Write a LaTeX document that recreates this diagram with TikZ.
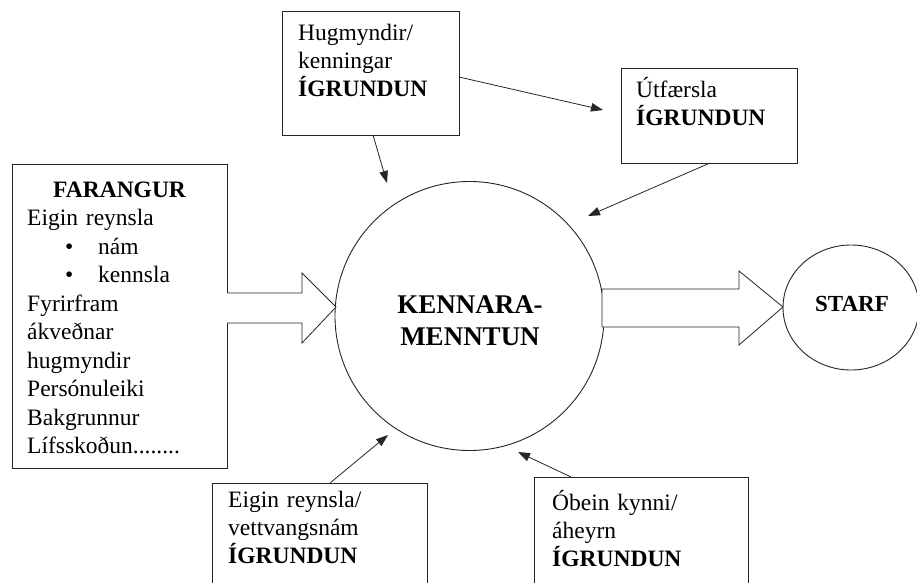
\documentclass[tikz,border=0pt]{standalone}
\usepackage{fontspec}
\setmainfont{Liberation Serif}
\usetikzlibrary{arrows.meta,calc,shapes.geometric}
\begin{document}
\begin{tikzpicture}[x=1pt,y=-1pt,
  boxline/.style={draw=black!85,line width=0.8pt},
  frame/.style={rectangle,inner sep=0pt,outer sep=0pt,anchor=north west},
  txt/.style={inner sep=0pt,anchor=base west,align=left,text width=175pt,font=\fontsize{23.5}{28}\selectfont},
  thinarr/.style={draw=black!85,line width=0.8pt,-{Triangle[length=12pt,width=8.5pt]}},
  blockarr/.style={draw=black!85,line width=0.8pt,fill=white,line join=miter},
  bigcirc/.style={draw=black!85,line width=0.9pt,inner sep=0pt,outer sep=0pt}]
\useasboundingbox (0,0) rectangle (917,583);
\fill[white] (0,0) rectangle (917,583);

% top box
\node[frame,boxline,minimum width=177,minimum height=124] (hug) at (282,11) {};
\node[txt,text width=150pt] (hugT) at (298,41) {Hugmyndir/\\kenningar\\\textbf{ÍGRUNDUN}};

% Utfaersla box
\node[frame,boxline,minimum width=176,minimum height=95] (utf) at (621,68) {};
\node[txt,text width=150pt] (utfT) at (636,98) {Útfærsla\\\textbf{ÍGRUNDUN}};

% left box
\node[frame,boxline,minimum width=215,minimum height=304] (far) at (12,164) {};
\node[txt,text width=185pt,font=\fontsize{23.5}{28.5}\selectfont] (farT) at (27,197)
 {\makebox[185pt]{\textbf{FARANGUR}}\\
  Eigin reynsla\\
  \hspace*{38pt}\makebox[33pt][l]{\textbullet}nám\\
  \hspace*{38pt}\makebox[33pt][l]{\textbullet}kennsla\\
  Fyrirfram\\
  ákveðnar\\
  hugmyndir\\
  Persónuleiki\\
  Bakgrunnur\\
  Lífsskoðun........};

% bottom left box (open at the bottom)
\node[frame,minimum width=215,minimum height=100] (eig) at (212,483) {};
\draw[boxline] (eig.south west) -- (eig.north west) -- (eig.north east) -- (eig.south east);
\node[txt,text width=190pt] (eigT) at (228,507) {Eigin reynsla/\\vettvangsnám\\\textbf{ÍGRUNDUN}};

% bottom right box (open at the bottom)
\node[frame,minimum width=214,minimum height=106] (obe) at (534,477) {};
\draw[boxline] (obe.south west) -- (obe.north west) -- (obe.north east) -- (obe.south east);
\node[txt,text width=190pt] (obeT) at (552,510) {Óbein kynni/\\áheyrn\\\textbf{ÍGRUNDUN}};

% central circle
\node[circle,bigcirc,minimum size=269pt] (ken) at (469.5,316) {};
\node[inner sep=0pt,anchor=base,align=center,text width=220pt,font=\fontsize{27}{32}\selectfont\bfseries] (kenT) at (470,313) {KENNARA-\\MENNTUN};

% STARF
\node[ellipse,bigcirc,minimum width=136pt,minimum height=125pt] (sta) at (851,307.5) {};
\node[inner sep=0pt,anchor=base,font=\fontsize{23}{27}\selectfont\bfseries] (staT) at (852,311) {STARF};

% block arrows
\draw[blockarr] (far.north east |- 0,293) -- (302,293) -- (302,273) -- (336,307)
  -- (302,343) -- (302,323) -- (far.north east |- 0,323);
\draw[blockarr] (602,289) -- (739,289) -- (739,271) -- (sta.west |- 0,307)
  -- (739,345) -- (739,327) -- (602,327) -- cycle;

% thin arrows
\coordinate (t1) at (387,183);
\coordinate (t2) at (603,110);
\coordinate (t3) at (588,216);
\coordinate (t4) at (388,435);
\coordinate (t5) at (518,452);
\draw[thinarr] ($(hug.south west)+(91,0)$) -- (t1);
\draw[thinarr] ($(hug.north east)+(0,66)$) -- (t2);
\draw[thinarr] ($(utf.south west)+(89,0)$) -- (t3);
\draw[thinarr] ($(eig.north west)+(118,0)$) -- (t4);
\draw[thinarr] ($(obe.north west)+(37,0)$) -- (t5);
\end{tikzpicture}
\end{document}
